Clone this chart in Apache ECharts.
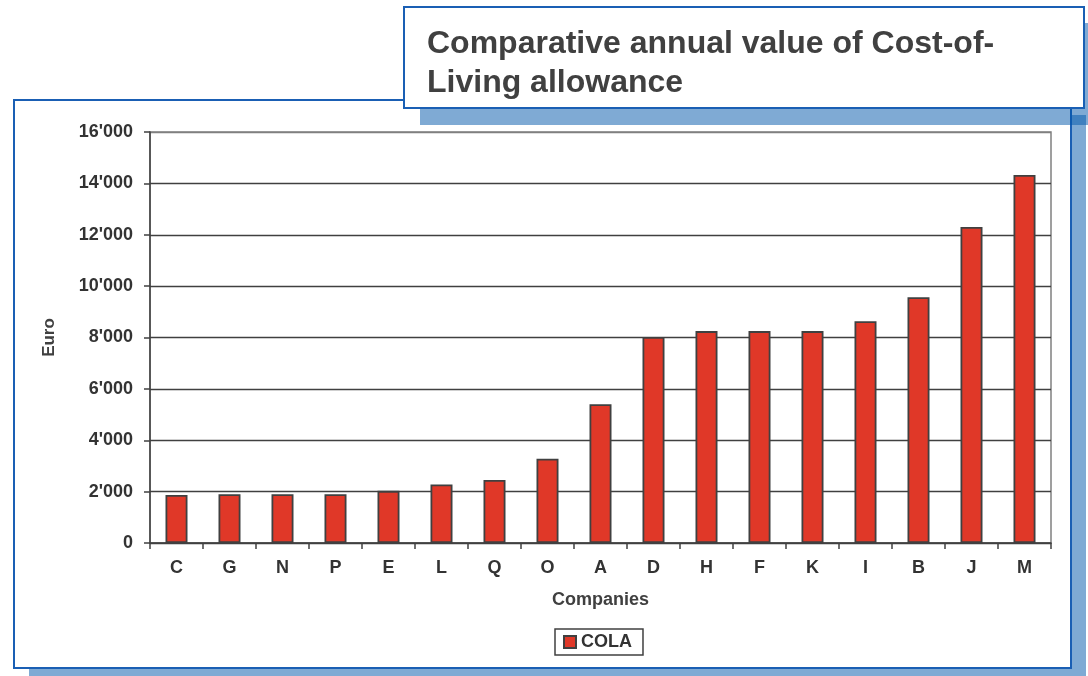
<!DOCTYPE html>
<html>
<head>
<meta charset="utf-8">
<script src="https://cdn.jsdelivr.net/npm/echarts@6/dist/echarts.min.js"></script>
<style>
  html, body { margin: 0; padding: 0; background: #fff; }
  #chart { width: 1088px; height: 676px; }
</style>
</head>
<body>
<div id="chart"></div>
<script>
// data
var companies = ['C', 'G', 'N', 'P', 'E', 'L', 'Q', 'O', 'A', 'D', 'H', 'F', 'K', 'I', 'B', 'J', 'M'];
var colaValues = [1870, 1900, 1900, 1900, 2030, 2280, 2450, 3280, 5400, 8020, 8250, 8250, 8250, 8630, 9570, 12300, 14330];
var yTicks = [0, 2000, 4000, 6000, 8000, 10000, 12000, 14000, 16000];

var blue = '#1a5fb4';
var shade = 'rgba(0,85,170,0.5)';
var font = '"Liberation Sans", Arial, sans-serif';

function fmt(v) {
    return String(v).replace(/\B(?=(\d{3})+(?!\d))/g, "'");
}

var myChart = echarts.init(document.getElementById('chart'));

var option = {
    animation: false,
    backgroundColor: '#fff',
    title: {
        text: 'Comparative annual value of Cost-of-\nLiving allowance',
        left: 427,
        top: 25,
        padding: 0,
        textStyle: {
            fontFamily: font,
            fontWeight: 'bold',
            fontSize: 32,
            lineHeight: 39,
            color: '#404040'
        }
    },
    graphic: [
        { type: 'rect', z: -40, shape: { x: 29, y: 115, width: 1057, height: 568 }, style: { fill: shade } },
        { type: 'rect', z: -30, shape: { x: 14, y: 100, width: 1057, height: 568 }, style: { fill: '#fff', stroke: blue, lineWidth: 2 } },
        { type: 'rect', z: -20, shape: { x: 420, y: 23, width: 680, height: 102 }, style: { fill: shade } },
        { type: 'rect', z: -10, shape: { x: 404, y: 7, width: 680, height: 101 }, style: { fill: '#fff', stroke: blue, lineWidth: 2 } }
    ],
    grid: {
        left: 150,
        right: 37,
        top: 132,
        bottom: 133,
        show: true,
        borderColor: '#808080',
        borderWidth: 1.5
    },
    legend: {
        data: ['COLA'],
        left: 555,
        top: 629,
        padding: [4, 11, 4, 8],
        borderColor: '#404040',
        borderWidth: 1.5,
        itemWidth: 12,
        itemHeight: 12,
        itemGap: 5,
        icon: 'rect',
        textStyle: { fontFamily: font, fontWeight: 'bold', fontSize: 18, color: '#333' }
    },
    xAxis: {
        type: 'category',
        data: companies,
        name: 'Companies',
        nameLocation: 'middle',
        nameGap: 48,
        nameTextStyle: { fontFamily: font, fontWeight: 'bold', fontSize: 18, color: '#404040' },
        axisLine: { lineStyle: { color: '#404040', width: 1.5 } },
        axisTick: { show: true, length: 6, lineStyle: { color: '#404040', width: 1.5 } },
        axisLabel: { margin: 16, fontFamily: font, fontWeight: 'bold', fontSize: 18, color: '#333' }
    },
    yAxis: {
        type: 'value',
        min: yTicks[0],
        max: yTicks[yTicks.length - 1],
        interval: yTicks[1] - yTicks[0],
        name: 'Euro',
        nameLocation: 'middle',
        nameGap: 92,
        nameTextStyle: { fontFamily: font, fontWeight: 'bold', fontSize: 17, color: '#404040' },
        axisLine: { show: true, lineStyle: { color: '#404040', width: 1.5 } },
        axisTick: { show: true, length: 6, lineStyle: { color: '#404040', width: 1.5 } },
        axisLabel: {
            margin: 17,
            fontFamily: font,
            fontWeight: 'bold',
            fontSize: 18,
            color: '#333',
            formatter: fmt
        },
        splitLine: {
            lineStyle: {
                color: ['#404040', '#404040', '#404040', '#404040', '#404040', '#404040', '#404040', '#404040', '#808080'],
                width: 1.3
            }
        }
    },
    series: [{
        name: 'COLA',
        type: 'bar',
        data: colaValues,
        barWidth: 22,
        itemStyle: { color: '#e03828', borderColor: '#404040', borderWidth: 1.8 }
    }]
};

option && myChart.setOption(option);
</script>
</body>
</html>
